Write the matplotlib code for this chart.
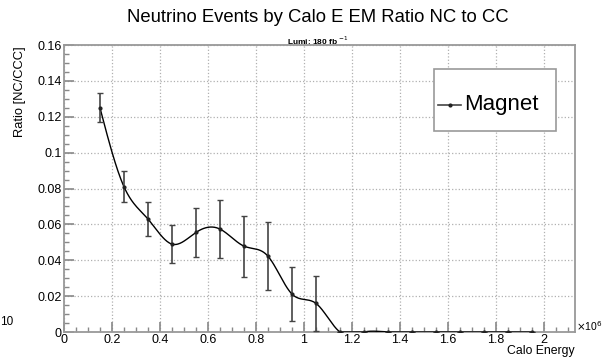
import numpy as np
import matplotlib
matplotlib.use("Agg")
import matplotlib.pyplot as plt
from matplotlib.ticker import MultipleLocator, FormatStrFormatter
from matplotlib.patches import Rectangle
from matplotlib.lines import Line2D

plt.rcParams['font.family'] = ['Liberation Sans', 'DejaVu Sans']

# bin centres of calo energy (x 1e6) and NC/CC ratio with errors
energy = [0.15, 0.25, 0.35, 0.45, 0.55, 0.65, 0.75, 0.85, 0.95, 1.05,
          1.15, 1.25, 1.35, 1.45, 1.55, 1.65, 1.75, 1.85, 1.95]
ratio = [0.125, 0.081, 0.063, 0.049, 0.0555, 0.0574, 0.0479, 0.0423, 0.0212, 0.016,
         0, 0, 0, 0, 0, 0, 0, 0, 0]
ratio_err = [0.008, 0.0088, 0.0097, 0.0106, 0.0138, 0.016, 0.017, 0.0188, 0.0148, 0.0154,
             0, 0, 0, 0, 0, 0, 0, 0, 0]


def smooth_curve(x, y, n=600):
    # natural cubic spline through the points (like ROOT's "C" draw option)
    x = np.asarray(x, float)
    y = np.asarray(y, float)
    k = len(x)
    h = np.diff(x)
    A = np.zeros((k, k))
    b = np.zeros(k)
    A[0, 0] = A[-1, -1] = 1
    for i in range(1, k - 1):
        A[i, i - 1] = h[i - 1]
        A[i, i] = 2 * (h[i - 1] + h[i])
        A[i, i + 1] = h[i]
        b[i] = 6 * ((y[i + 1] - y[i]) / h[i] - (y[i] - y[i - 1]) / h[i - 1])
    M = np.linalg.solve(A, b)
    xs = np.linspace(x[0], x[-1], n)
    idx = np.clip(np.searchsorted(x, xs) - 1, 0, k - 2)
    x0, x1 = x[idx], x[idx + 1]
    hh = x1 - x0
    t0 = x1 - xs
    t1 = xs - x0
    ys = (M[idx] * t0 ** 3 + M[idx + 1] * t1 ** 3) / (6 * hh) \
        + (y[idx] / hh - M[idx] * hh / 6) * t0 + (y[idx + 1] / hh - M[idx + 1] * hh / 6) * t1
    return xs, ys


fig = plt.figure(figsize=(6.03, 3.58), dpi=100)
ax = fig.add_axes([0.1061, 0.0726, 0.8475, 0.8017])

xs, ys = smooth_curve(energy, ratio)
ax.plot(xs, np.clip(ys, 0, None), color='black', lw=1.0, zorder=3)
ax.errorbar(energy, ratio, yerr=ratio_err, fmt='o', ms=2, color='#222222',
            ecolor='#444444', elinewidth=1.2, capsize=2.5, capthick=1.0, zorder=4)

ax.set_xlim(0, 2.13)
ax.set_ylim(0, 0.16)
ax.xaxis.set_major_locator(MultipleLocator(0.2))
ax.xaxis.set_minor_locator(MultipleLocator(0.05))
ax.yaxis.set_major_locator(MultipleLocator(0.02))
ax.yaxis.set_minor_locator(MultipleLocator(0.005))
ax.xaxis.set_major_formatter(FormatStrFormatter('%g'))
ax.yaxis.set_major_formatter(FormatStrFormatter('%g'))
ax.tick_params(which='both', direction='in', top=False, right=False,
               color='#888888', labelsize=9, pad=1.5)
ax.tick_params(which='major', length=7, width=1.2)
ax.tick_params(which='minor', length=3.5, width=1.0)
ax.grid(True, which='major', ls=':', color='#b0b0b0', lw=0.9)
for s in ax.spines.values():
    s.set_color('#999999')
    s.set_linewidth(1.3)

fig.text(0.527, 0.95, 'Neutrino Events by Calo E EM Ratio NC to CC',
         ha='center', va='center', fontsize=13.3)
fig.text(0.527, 0.885, r'Lumi: 180 fb $^{-1}$', ha='center', va='center',
         fontsize=6, fontweight='bold')
fig.text(20 / 603, 1 - 46 / 358, 'Ratio [NC/CCC]', rotation=90,
         ha='center', va='top', fontsize=9.3)
fig.text(575 / 603, 1 - 351 / 358, 'Calo Energy', ha='right', va='center', fontsize=8.8)
fig.text(576 / 603, 1 - 326 / 358, r'$\times$10$^{6}$', ha='left', va='center', fontsize=7.5)
fig.text(0, 1 - 322 / 358, '10', ha='left', va='center', fontsize=8.5)

# legend box
fig.add_artist(Rectangle((434 / 603, 1 - 131 / 358), 122 / 603, 62 / 358,
                         transform=fig.transFigure, facecolor='white',
                         edgecolor='#999999', lw=1.2, zorder=5))
fig.add_artist(Line2D([438 / 603, 461 / 603], [1 - 105 / 358, 1 - 105 / 358],
                      transform=fig.transFigure, color='#444444', lw=1.2, zorder=6))
fig.add_artist(Line2D([449.5 / 603], [1 - 105 / 358], transform=fig.transFigure,
                      color='#222222', marker='o', ms=2, zorder=7))
fig.text(464 / 603, 1 - 105 / 358, 'Magnet', ha='left', va='center', fontsize=16, zorder=7)

fig.savefig('out.png', dpi=100)
